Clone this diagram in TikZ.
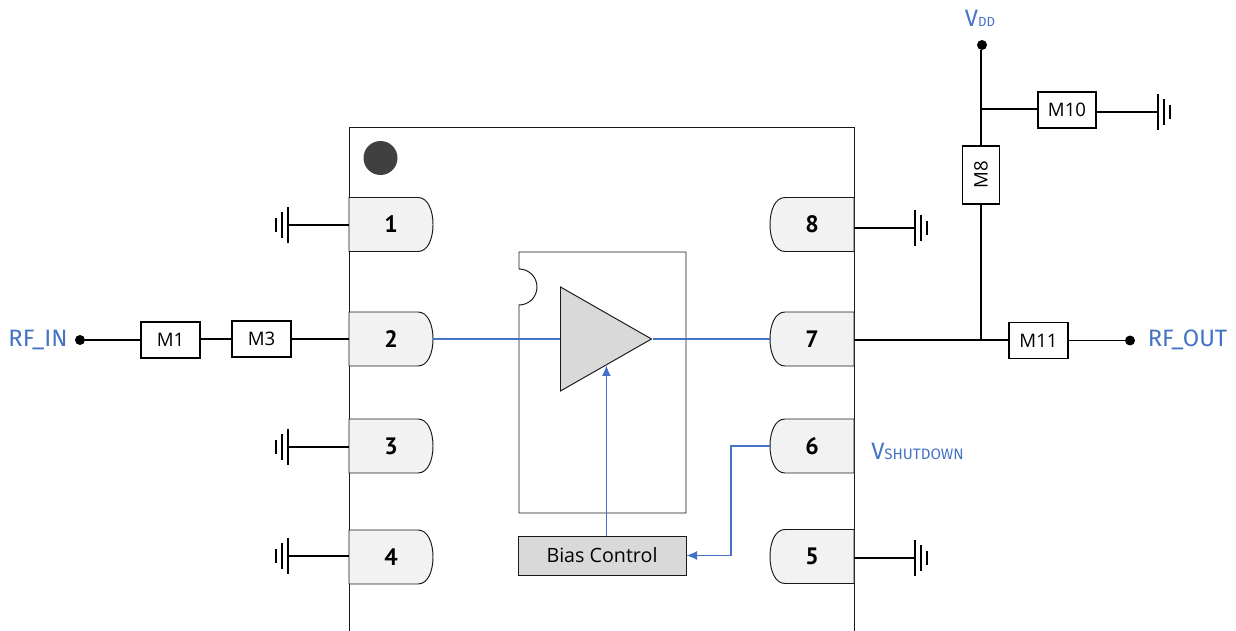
\documentclass[tikz,border=0pt]{standalone}
\usepackage{fontspec}
\setmainfont{Open Sans}
\newfontfamily\pinfont{PT Sans}
\newfontfamily\portfont{Fira Sans}
\usetikzlibrary{arrows.meta,shapes.geometric}
\definecolor{sigblue}{HTML}{4472C4}
\definecolor{pingray}{HTML}{F2F2F2}
\definecolor{blockgray}{HTML}{D9D9D9}

\begin{document}
\begin{tikzpicture}[x=0.02cm, y=-0.02cm]
\tikzstyle{wire} = [draw=black, line width=1pt]
\tikzstyle{sig} = [draw=sigblue, line width=0.6pt]
\tikzstyle{outline} = [draw=black!90, line width=0.55pt]
\tikzstyle{match} = [rectangle, draw=black, line width=0.9pt, fill=white, minimum width=1.17cm, minimum height=0.72cm, inner sep=0pt, font=\fontsize{10.6}{12}\selectfont]
\tikzstyle{pinbox} = [rectangle, minimum width=1.68cm, minimum height=1.08cm, inner sep=0pt, font=\pinfont\fontsize{13.5}{15}\selectfont\bfseries]
\tikzstyle{port} = [text=sigblue, inner sep=0pt, font=\portfont\fontsize{13.5}{15}\selectfont]
\tikzstyle{dot} = [circle, fill=black, minimum size=0.2cm, inner sep=0pt]
\tikzset{
  gnd/.pic={\draw[wire] (0,-18) -- (0,18) (6,-13) -- (6,13) (12,-7) -- (12,7);},
  pinshape/.pic={\draw[outline, fill=pingray] (-42,-27) -- (27,-27) .. controls (37,-27) and (42,-14) .. (42,0) .. controls (42,14) and (37,27) .. (27,27) -- (-42,27) -- cycle;}
}
\useasboundingbox (0,0) rectangle (1236,631);

% package body
\draw[outline] (349,631) -- (349,127) -- (854,127) -- (854,631);
\node (Mark) at (380.5,158) [circle, fill=black!75, minimum size=0.68cm, inner sep=0pt] {};

% pins
\foreach \n/\cx/\cy/\s in {1/391/224.5/1, 2/391/339/1, 3/391/446/1, 4/391/557/1, 8/812/224.5/-1, 7/812/339/-1, 6/812/446/-1, 5/812/556.5/-1} {
  \pic[xscale=\s] at (\cx,\cy) {pinshape};
  \node (P\n) at (\cx,\cy) [pinbox] {\n};
}

% die with notch
\draw[outline] (519,269) -- (519,252) -- (686,252) -- (686,513) -- (519,513) -- (519,305) arc[start angle=90, end angle=-90, radius=18];
\node (Amp) at (560,339) [isosceles triangle, isosceles triangle stretches, anchor=lower side, draw=black!90, line width=0.55pt, fill=blockgray, minimum width=2.08cm, minimum height=1.82cm, inner sep=0pt] {};
\node (Bias) at (602,555.5) [rectangle, draw=black!90, line width=0.55pt, fill=blockgray, minimum width=3.36cm, minimum height=0.78cm, inner sep=0pt, font=\fontsize{11.2}{13}\selectfont] {Bias Control};

% signal path
\draw[sig] (P2.east) -- (Amp.lower side);
\draw[sig] (Amp.apex) -- (P7.west);
\draw[sig, -{Latex[length=6pt,width=5pt]}] (Amp.right side |- Bias.north) -- (Amp.right side);
\coordinate (Turn) at (731,446);
\draw[sig, -{Latex[length=6pt,width=5pt]}] (P6.west) -- (Turn) |- (Bias.east);

% input side
\node (RFin) at (38,340) [port] {RF\_IN};
\node (DotIn) at (80,340) [dot] {};
\node (M1) at (170.5,340) [match] {M1};
\node (M3) at (261.5,339) [match] {M3};
\draw[wire] (DotIn) -- (M1);
\draw[wire] (M1) -- (M3 -| M1.east) -- (M3.west);
\draw[wire] (M3.east) -- (P2.west);

% output side
\coordinate (Tee) at (981,340);
\node (M11) at (1038.5,340.5) [match] {M11};
\node (DotOut) at (1130,340.5) [dot] {};
\node (RFout) at (1187.5,340) [port] {RF\_OUT};
\draw[wire] (P7.east |- Tee) -- (Tee -| M11.west);
\draw[wire] (M11.east) -- (DotOut);

% supply branch
\node (Vdd) at (980,18) [port] {V{\fontsize{7.5}{8}\selectfont DD}};
\node (DotVdd) at (982,45) [dot] {};
\node (M8) at (981,175) [match, rotate=90, minimum width=1.17cm, minimum height=0.74cm] {M8};
\node (M10) at (1067,110) [match] {M10};
\node (Vshut) at (917.5,451) [port] {V{\fontsize{8.6}{10}\selectfont SHUTDOWN}};
\coordinate (Tap) at (981,109);
\draw[wire] (DotVdd.south -| M8) -- (M8.east);
\draw[wire] (M8.west) -- (Tee);
\draw[wire] (Tap) -- (Tap -| M10.west);

% grounds
\coordinate (G1) at (288,225);
\coordinate (G3) at (288,447);
\coordinate (G4) at (288,556);
\coordinate (G8) at (915,228);
\coordinate (G5) at (915,558);
\coordinate (G10) at (1158,112);
\foreach \g/\p in {G1/P1, G3/P3, G4/P4} {
  \draw[wire] (\p.west |- \g) -- (\g);
  \pic[xscale=-1] at (\g) {gnd};
}
\foreach \g/\p in {G8/P8, G5/P5, G10/M10} {
  \draw[wire] (\p.east |- \g) -- (\g);
  \pic at (\g) {gnd};
}
\end{tikzpicture}
\end{document}
